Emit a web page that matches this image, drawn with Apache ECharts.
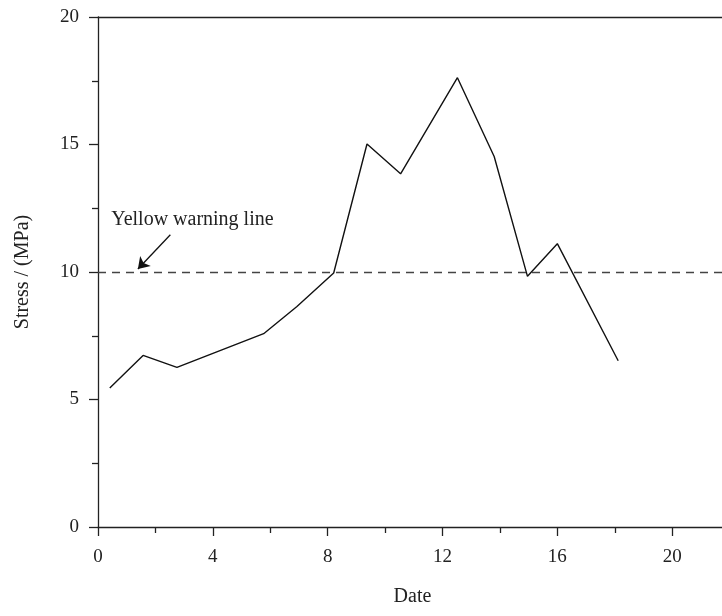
<!DOCTYPE html>
<html>
<head>
<meta charset="utf-8">
<script src="https://cdn.jsdelivr.net/npm/echarts@6/dist/echarts.min.js"></script>
<style>
  html, body { margin: 0; padding: 0; background: #fff; }
  #stressChart { width: 722px; height: 616px; }
</style>
</head>
<body>
<div id="stressChart"></div>
<script>
// values
const dates = [0.41, 1.57, 2.75, 5.77, 6.93, 8.21, 9.37, 10.54, 12.52, 13.8, 14.96, 16.0, 18.12];
const stress = [5.45, 6.73, 6.26, 7.58, 8.65, 9.96, 15.02, 13.85, 17.62, 14.53, 9.83, 11.11, 6.52];
const warningLevel = 10;
const arrowFrom = [2.52, 11.46];
const arrowTo = [1.39, 10.12];
const notePos = [0.46, 12.05];
const noteText = 'Yellow warning line';

const font = '"Liberation Serif", "DejaVu Serif", serif';
const ink = '#222';

const myChart = echarts.init(document.getElementById('stressChart'));

var option = {
  animation: false,
  grid: {
    left: 98,
    top: 17,
    bottom: 89,
    right: -65,  // x max 24 sits past the canvas edge, the picture is cut at ~21.7
    outerBoundsMode: 'none'
  },
  xAxis: [
    {
      type: 'value',
      position: 'bottom',
      min: 0,
      max: 24,
      interval: 4,
      name: 'Date',
      nameLocation: 'middle',
      nameGap: 60,
      // axis runs off the canvas, so pull the name back to the visible middle
      nameTextStyle: { fontFamily: font, fontSize: 20, color: ink, padding: [0, 60, 0, 0] },
      axisLine: { show: true, lineStyle: { color: ink, width: 1.3 } },
      axisTick: { show: true, length: 9, lineStyle: { color: ink, width: 1.3 } },
      minorTick: { show: true, splitNumber: 2, length: 6, lineStyle: { color: ink, width: 1.3 } },
      axisLabel: { margin: 21, fontFamily: font, fontSize: 19, color: ink },
      splitLine: { show: false }
    },
    {
      type: 'value',
      position: 'top',
      min: 0,
      max: 24,
      axisLine: { show: true, lineStyle: { color: ink, width: 1.3 } },
      axisTick: { show: false },
      axisLabel: { show: false },
      splitLine: { show: false }
    }
  ],
  yAxis: {
    type: 'value',
    min: 0,
    max: 20,
    interval: 5,
    name: 'Stress / (MPa)',
    nameLocation: 'middle',
    nameGap: 65,
    nameTextStyle: { fontFamily: font, fontSize: 20, color: ink },
    axisLine: { show: true, lineStyle: { color: ink, width: 1.3 } },
    axisTick: { show: true, length: 9, lineStyle: { color: ink, width: 1.3 } },
    minorTick: { show: true, splitNumber: 2, length: 6, lineStyle: { color: ink, width: 1.3 } },
    axisLabel: { margin: 19, fontFamily: font, fontSize: 19, color: ink },
    splitLine: { show: false }
  },
  series: [
    {
      type: 'line',
      xAxisIndex: 0,
      data: dates.map((d, i) => [d, stress[i]]),
      symbol: 'none',
      lineStyle: { color: '#111', width: 1.4 },
      markLine: {
        silent: true,
        symbol: ['none', 'none'],
        label: { show: false },
        data: [
          {
            yAxis: warningLevel,
            lineStyle: { type: [8, 6], color: '#444', width: 1.4 }
          },
          [
            { coord: arrowFrom, symbol: 'none' },
            { coord: arrowTo, symbol: 'arrow', symbolSize: 11, lineStyle: { type: 'solid', color: '#111', width: 1.3 } }
          ]
        ]
      },
      markPoint: {
        silent: true,
        symbol: 'circle',
        symbolSize: 0,
        data: [{ coord: notePos }],
        label: {
          show: true,
          position: 'right',
          distance: 0,
          formatter: noteText,
          fontFamily: font,
          fontSize: 20,
          color: ink
        }
      }
    }
  ]
};

myChart.setOption(option);
window.addEventListener('resize', function () {
  myChart.resize();
});
</script>
</body>
</html>
